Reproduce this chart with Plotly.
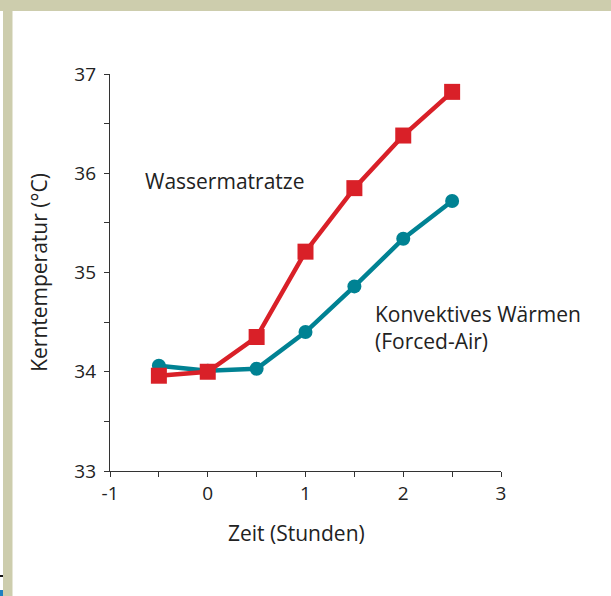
import plotly.graph_objects as go

zeit = [-0.5, 0, 0.5, 1, 1.5, 2, 2.5]
wassermatratze = [33.96, 34.0, 34.35, 35.21, 35.85, 36.38, 36.82]
konvektiv = [34.06, 34.01, 34.03, 34.40, 34.86, 35.34, 35.72]

x_ticks = [-1, -0.5, 0, 0.5, 1, 1.5, 2, 2.5, 3]
x_labels = ["-1", "", "0", "", "1", "", "2", "", "3"]
y_ticks = [33, 33.5, 34, 34.5, 35, 35.5, 36, 36.5, 37]
y_labels = ["33", "", "34", "", "35", "", "36", "", "37"]

RED = "#d92028"
TEAL = "#008293"
KHAKI = "#cdcdad"
TXT = "#222222"
FONT = "Open Sans, Liberation Sans, sans-serif"

fig = go.Figure()
fig.add_trace(go.Scatter(x=zeit, y=konvektiv, mode="lines+markers",
                         line=dict(color=TEAL, width=4.5),
                         marker=dict(symbol="circle", size=14, color=TEAL),
                         showlegend=False, cliponaxis=False, hoverinfo="skip"))
fig.add_trace(go.Scatter(x=zeit, y=wassermatratze, mode="lines+markers",
                         line=dict(color=RED, width=4.5),
                         marker=dict(symbol="square", size=16, color=RED),
                         showlegend=False, cliponaxis=False, hoverinfo="skip"))

fig.add_annotation(x=-0.665, y=35.92, xref="x", yref="y", text="Wassermatratze",
                   showarrow=False, xanchor="left", yanchor="middle",
                   font=dict(size=21, color=TXT, family=FONT))
fig.add_annotation(x=1.69, y=34.45, xref="x", yref="y",
                   text="Konvektives Wärmen<br>(Forced-Air)",
                   showarrow=False, xanchor="left", yanchor="middle", align="left",
                   font=dict(size=21, color=TXT, family=FONT))

W, H = 611, 596
L, R, T, B = 110, 110, 74, 125
pw, ph = W - L - R, H - T - B

def px(x):
    return (x - L) / pw

def py(y):
    return (H - B - y) / ph

# x-axis title (slightly left of centre, as in the original)
fig.add_annotation(x=px(296), y=py(533), xref="paper", yref="paper",
                   text="Zeit (Stunden)", showarrow=False,
                   xanchor="center", yanchor="middle",
                   font=dict(size=21, color=TXT, family=FONT))

fig.add_shape(type="rect", xref="paper", yref="paper", layer="below",
              x0=px(0), x1=px(W), y0=py(11), y1=py(0),
              fillcolor=KHAKI, line=dict(width=0))
fig.add_shape(type="rect", xref="paper", yref="paper", layer="below",
              x0=px(3), x1=px(12.5), y0=py(H), y1=py(11),
              fillcolor=KHAKI, line=dict(width=0))
fig.add_shape(type="rect", xref="paper", yref="paper", layer="below",
              x0=px(0), x1=px(3), y0=py(577), y1=py(575),
              fillcolor="#111111", line=dict(width=0))
fig.add_shape(type="rect", xref="paper", yref="paper", layer="below",
              x0=px(0), x1=px(3), y0=py(H), y1=py(590),
              fillcolor="#1f7fc0", line=dict(width=0))

axis_common = dict(showgrid=False, zeroline=False, showline=True,
                   linecolor="#333333", linewidth=1.4, ticks="outside",
                   ticklen=5, tickcolor="#333333", tickwidth=1.4,
                   tickfont=dict(size=19, color=TXT, family=FONT),
                   tickmode="array", fixedrange=True)

fig.update_xaxes(range=[-1, 3], tickvals=x_ticks, ticktext=x_labels,
                 **axis_common)
fig.update_yaxes(range=[33, 37], tickvals=y_ticks, ticktext=y_labels,
                 ticklabelstandoff=4,
                 title=dict(text="Kerntemperatur (°C)", standoff=20,
                            font=dict(size=21, color=TXT, family=FONT)),
                 **axis_common)

fig.update_layout(width=W, height=H, margin=dict(l=L, r=R, t=T, b=B),
                  plot_bgcolor="white", paper_bgcolor="white",
                  font=dict(family=FONT), hovermode=False)

fig.write_html("out.html", config={"displayModeBar": False},
               post_script="document.body.style.margin='0';")
